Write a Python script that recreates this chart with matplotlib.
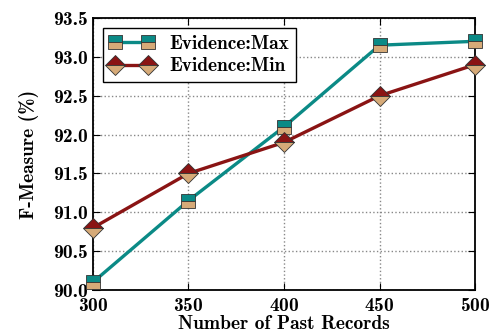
import matplotlib
matplotlib.use("Agg")
import matplotlib.pyplot as plt

# data
records = [300, 350, 400, 450, 500]
ev_max = [90.1, 91.15, 92.1, 93.15, 93.2]
ev_min = [90.8, 91.5, 91.9, 92.5, 92.9]

plt.rcParams['font.family'] = ['cmb10', 'DejaVu Serif']
plt.rcParams['axes.formatter.use_mathtext'] = True

fig = plt.figure(figsize=(4.94, 3.33), dpi=100)
ax = fig.add_axes([0.188, 0.129, 0.774, 0.817])

teal = "#0b8a86"
dred = "#8a1414"
tan = "#d6aa78"

ax.plot(records, ev_max, color=teal, lw=2.4, marker='s', markersize=10,
        fillstyle='top', markerfacecolor=teal, markerfacecoloralt=tan,
        markeredgecolor='#333333', markeredgewidth=0.6,
        label="Evidence:Max", clip_on=False, zorder=3)
ax.plot(records, ev_min, color=dred, lw=2.4, marker='D', markersize=10,
        fillstyle='top', markerfacecolor=dred, markerfacecoloralt=tan,
        markeredgecolor='#333333', markeredgewidth=0.6,
        label="Evidence:Min", clip_on=False, zorder=3)

ax.set_xlim(300, 500)
ax.set_ylim(90.0, 93.5)
ax.set_xticks(records)
ax.set_yticks([90.0, 90.5, 91.0, 91.5, 92.0, 92.5, 93.0, 93.5])
ax.set_yticklabels(["90.0", "90.5", "91.0", "91.5", "92.0", "92.5", "93.0", "93.5"])
ax.tick_params(direction='in', top=True, right=True, labelsize=14, length=5)
ax.tick_params(axis='x', pad=5)
ax.grid(True, linestyle=':', color='#888888', linewidth=1)

for s in ax.spines.values():
    s.set_linewidth(1.3)

ax.set_xlabel("Number of Past Records", fontsize=14, labelpad=0)
ax.set_ylabel("F-Measure (%)", fontsize=14, labelpad=10)

leg = ax.legend(loc='upper left', fontsize=14, fancybox=False, framealpha=1,
                edgecolor='black', borderaxespad=0.5, handlelength=2.3,
                numpoints=2, borderpad=0.35, labelspacing=0.25,
                handletextpad=0.8)
leg.get_frame().set_linewidth(1.0)

plt.savefig("out.png", dpi=100)
